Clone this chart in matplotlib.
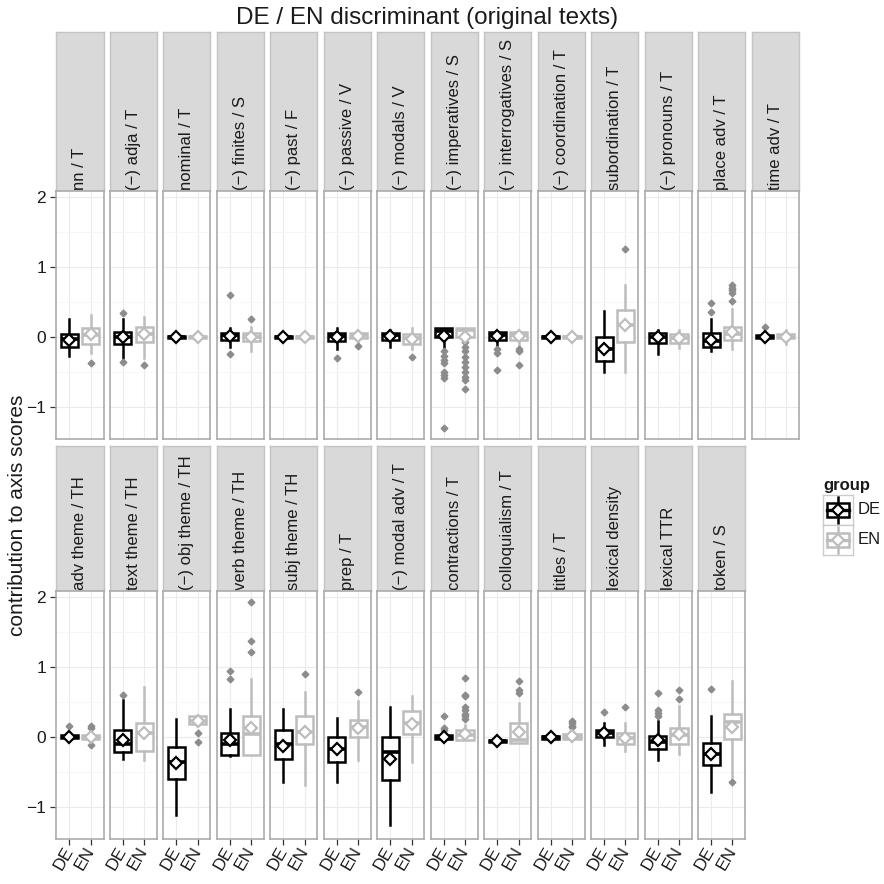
import matplotlib
matplotlib.use("Agg")
import matplotlib.pyplot as plt
from matplotlib.lines import Line2D
from matplotlib.patches import Rectangle

plt.rcParams['font.family'] = ['Liberation Sans', 'DejaVu Sans']

# ---------------------------------------------------------------- data
features = [
    "nn / T", "(−) adja / T", "nominal / T", "(−) finites / S", "(−) past / F",
    "(−) passive / V", "(−) modals / V", "(−) imperatives / S",
    "(−) interrogatives / S", "(−) coordination / T", "subordination / T",
    "(−) pronouns / T", "place adv / T", "time adv / T",
    "adv theme / TH", "text theme / TH", "(−) obj theme / TH", "verb theme / TH",
    "subj theme / TH", "prep / T", "(−) modal adv / T", "contractions / T",
    "colloquialism / T", "titles / T", "lexical density", "lexical TTR", "token / S",
]
groups = ["DE", "EN"]

# five-number summaries, means and outliers per feature (DE)
de_whislo = [-0.28, -0.31, -0.02, -0.14, -0.02, -0.18, -0.14, -0.17, -0.14, -0.02, -0.50, -0.25, -0.21, -0.03,
             -0.03, -0.32, -1.12, -0.27, -0.65, -0.65, -1.26, -0.04, -0.08, -0.03, -0.12, -0.33, -0.79]
de_q1 = [-0.14, -0.10, -0.015, -0.04, -0.015, -0.06, -0.05, 0.00, -0.05, -0.015, -0.34, -0.09, -0.15, -0.02,
         -0.02, -0.22, -0.61, -0.26, -0.32, -0.36, -0.62, -0.03, -0.08, -0.03, -0.01, -0.18, -0.40]
de_med = [-0.03, -0.01, 0.00, 0.02, 0.00, 0.01, 0.02, 0.08, 0.02, 0.00, -0.18, 0.00, -0.06, 0.00,
          0.00, -0.10, -0.36, -0.10, -0.11, -0.18, -0.22, -0.01, -0.06, -0.01, 0.05, -0.07, -0.24]
de_q3 = [0.04, 0.07, 0.015, 0.06, 0.015, 0.06, 0.05, 0.12, 0.07, 0.015, -0.01, 0.06, 0.05, 0.02,
         0.02, 0.10, -0.14, 0.05, 0.10, -0.01, -0.01, 0.02, -0.04, 0.01, 0.10, 0.01, -0.09]
de_whishi = [0.26, 0.26, 0.02, 0.13, 0.02, 0.13, 0.10, 0.12, 0.07, 0.02, 0.36, 0.10, 0.25, 0.03,
             0.03, 0.52, 0.25, 0.40, 0.40, 0.27, 0.42, 0.05, -0.04, 0.01, 0.20, 0.22, 0.30]
de_mean = [-0.04, 0.00, 0.00, 0.01, 0.00, 0.00, 0.01, 0.01, 0.01, 0.00, -0.17, 0.00, -0.05, 0.00,
           0.00, -0.05, -0.38, -0.05, -0.13, -0.18, -0.32, -0.01, -0.06, -0.01, 0.05, -0.05, -0.24]
de_fliers = [[], [0.34, -0.36], [], [0.59, -0.25], [], [-0.30], [],
             [-0.20, -0.27, -0.33, -0.37, -0.51, -0.55, -0.59, -1.31],
             [-0.18, -0.23, -0.48], [], [], [], [0.48, 0.35], [0.14],
             [0.15], [0.60], [], [0.94, 0.83], [], [], [], [0.29, 0.13, 0.10],
             [], [], [0.35], [0.62, 0.38, 0.34, 0.30], [0.68]]

# five-number summaries, means and outliers per feature (EN)
en_whislo = [-0.23, -0.30, -0.02, -0.20, -0.02, -0.08, -0.18, -0.05, -0.14, -0.02, -0.51, -0.16, -0.18, -0.10,
             -0.05, -0.33, 0.18, -0.26, -0.69, -0.33, -0.36, -0.05, -0.09, -0.03, -0.20, -0.25, -0.57]
en_q1 = [-0.10, -0.07, -0.015, -0.06, -0.015, -0.02, -0.10, 0.00, -0.05, -0.015, -0.07, -0.09, -0.05, -0.02,
         -0.03, -0.20, 0.18, -0.26, -0.11, -0.01, 0.04, -0.05, -0.09, -0.03, -0.10, -0.11, -0.03]
en_med = [0.03, 0.04, 0.00, 0.00, 0.00, 0.02, -0.02, 0.10, 0.02, 0.00, 0.17, -0.02, 0.04, 0.00,
          0.00, 0.06, 0.22, 0.04, 0.07, 0.14, 0.19, 0.03, -0.05, 0.00, -0.02, 0.03, 0.21]
en_q3 = [0.13, 0.14, 0.015, 0.05, 0.015, 0.06, 0.04, 0.12, 0.07, 0.015, 0.38, 0.04, 0.14, 0.04,
         0.03, 0.20, 0.29, 0.30, 0.29, 0.24, 0.36, 0.10, 0.20, 0.04, 0.05, 0.13, 0.33]
en_whishi = [0.31, 0.28, 0.02, 0.14, 0.02, 0.06, 0.13, 0.12, 0.07, 0.02, 0.74, 0.10, 0.40, 0.10,
             0.05, 0.71, 0.29, 0.83, 0.64, 0.51, 0.58, 0.17, 0.48, 0.04, 0.19, 0.44, 0.80]
en_mean = [0.04, 0.04, 0.00, 0.00, 0.00, 0.01, -0.03, 0.00, 0.01, 0.00, 0.17, -0.02, 0.07, 0.00,
           0.00, 0.06, 0.23, 0.13, 0.07, 0.13, 0.18, 0.04, 0.07, 0.01, -0.02, 0.04, 0.14]
en_fliers = [[-0.38], [-0.40], [], [0.25], [], [-0.13], [-0.29],
             [-0.07, -0.14, -0.21, -0.29, -0.36, -0.43, -0.50, -0.57, -0.62, -0.75],
             [-0.18, -0.21, -0.41], [], [1.25], [], [0.74, 0.70, 0.67, 0.62, 0.51], [],
             [0.16, 0.13, -0.12], [], [0.06, -0.08], [1.92, 1.36, 1.21], [0.89], [0.64], [],
             [0.84, 0.60, 0.58, 0.43, 0.38, 0.33, 0.29, 0.25], [0.79, 0.67, 0.62],
             [0.23, 0.19, 0.16, 0.14], [0.42], [0.67, 0.54], [-0.64]]

y_ticks = [-1, 0, 1, 2]
y_minor = [-0.5, 0.5, 1.5]

# ---------------------------------------------------------------- style
group_colors = {"DE": "#000000", "EN": "#BDBDBD"}
flier_color = "#8C8C8C"
strip_fill = "#D9D9D9"
border_col = "#ABABAB"
text_col = "#1A1A1A"
box_lw = 1.8

W = H = 884
fig = plt.figure(figsize=(W / 100, H / 100), dpi=100)


def px_axes(x, y, w, h, **kw):
    return fig.add_axes([x / W, 1 - (y + h) / H, w / W, h / H], **kw)


ncol = 14
col_left0, col_pitch, panel_w = 56.5, 53.48, 47.0
rows = [dict(strip_top=31.7, panel_top=191.0, panel_bot=439.0),
        dict(strip_top=446.0, panel_top=591.0, panel_bot=839.0)]
ylim = (-1.46, 2.08)


def summary(prefix, i):
    src = globals()
    return dict(whislo=src[prefix + "_whislo"][i], q1=src[prefix + "_q1"][i],
                med=src[prefix + "_med"][i], q3=src[prefix + "_q3"][i],
                whishi=src[prefix + "_whishi"][i], mean=src[prefix + "_mean"][i],
                fliers=src[prefix + "_fliers"][i])


for i, name in enumerate(features):
    r, c = divmod(i, ncol)
    geo = rows[r]
    left = col_left0 + c * col_pitch

    # strip
    sax = px_axes(left, geo["strip_top"], panel_w, geo["panel_top"] - geo["strip_top"])
    sax.set_facecolor(strip_fill)
    sax.set_xticks([]); sax.set_yticks([])
    for sp in sax.spines.values():
        sp.set_color("#C4C4C4"); sp.set_linewidth(1.0)
    sax.text(0.5, 0.008, name, rotation=90, rotation_mode="anchor", ha="left", va="center",
             transform=sax.transAxes, fontsize=12, color=text_col, clip_on=True)

    # panel
    ax = px_axes(left, geo["panel_top"], panel_w, geo["panel_bot"] - geo["panel_top"])

    for k, g in enumerate(groups):
        col = group_colors[g]
        st = summary(g.lower(), i)
        ax.bxp([st], positions=[k + 1], widths=0.8, patch_artist=True,
               showmeans=True, showcaps=False, manage_ticks=False,
               boxprops=dict(facecolor="white", edgecolor=col, linewidth=box_lw),
               medianprops=dict(color=col, linewidth=2.6, solid_capstyle="butt"),
               whiskerprops=dict(color=col, linewidth=box_lw),
               meanprops=dict(marker="D", markerfacecolor="white", markeredgecolor=col,
                              markersize=5.8, markeredgewidth=1.6),
               flierprops=dict(marker="D", markerfacecolor=flier_color,
                               markeredgecolor=flier_color, markersize=3.4))

    ax.set_xlim(0.4, 2.6)
    ax.set_ylim(*ylim)
    ax.set_yticks(y_ticks)
    ax.set_yticks(y_minor, minor=True)
    ax.set_xticks([1, 2])
    ax.grid(True, which="major", color="#EBEBEB", linewidth=0.8)
    ax.grid(True, which="minor", axis="y", color="#F6F6F6", linewidth=0.6)
    ax.set_axisbelow(True)
    for sp in ax.spines.values():
        sp.set_color(border_col); sp.set_linewidth(1.2)
        sp.set_zorder(5)

    if c == 0:
        ax.set_yticklabels(["−1", "0", "1", "2"])
        ax.tick_params(axis="y", which="major", length=4.5, width=0.9, color="#333333",
                       labelsize=12.5, labelcolor=text_col, pad=3)
    else:
        ax.tick_params(axis="y", which="major", length=0, labelleft=False)
    ax.tick_params(axis="y", which="minor", length=0)

    if r == 1:
        ax.set_xticklabels(groups)
        ax.tick_params(axis="x", length=4.5, width=0.9, color="#333333",
                       labelsize=12.5, labelcolor=text_col, pad=2)
        for lab in ax.get_xticklabels():
            lab.set_rotation(60)
            lab.set_rotation_mode("anchor")
            lab.set_ha("right")
            lab.set_va("center")
    else:
        ax.tick_params(axis="x", length=0, labelbottom=False)

# titles
fig.text(427 / W, 1 - 18 / H, "DE / EN discriminant (original texts)",
         ha="center", va="center", fontsize=17.5, color=text_col)
fig.text(18 / W, 1 - 515 / H, "contribution to axis scores", rotation=90,
         ha="center", va="center", fontsize=15, color=text_col)

# legend
fig.text(823 / W, 1 - 485 / H, "group", ha="left", va="center",
         fontsize=12, fontweight="bold", color=text_col)
for k, g in enumerate(groups):
    col = group_colors[g]
    kax = px_axes(823, 495 + k * 30, 30, 30)
    kax.set_xlim(0, 1); kax.set_ylim(0, 1)
    kax.set_facecolor("white")
    kax.set_xticks([]); kax.set_yticks([])
    for sp in kax.spines.values():
        sp.set_color("#CCCCCC"); sp.set_linewidth(1.0)
    kax.add_line(Line2D([0.5, 0.5], [0.08, 0.92], color=col, lw=box_lw))
    kax.add_patch(Rectangle((0.12, 0.28), 0.76, 0.44, facecolor="white", edgecolor=col, lw=box_lw))
    kax.add_line(Line2D([0.12, 0.88], [0.5, 0.5], color=col, lw=2.4))
    kax.plot([0.5], [0.5], marker="D", markersize=5.8, markerfacecolor="white",
             markeredgecolor=col, markeredgewidth=1.6)
    fig.text(858 / W, 1 - (510 + k * 30) / H, g, ha="left", va="center",
             fontsize=12, color=text_col)

fig.savefig("out.png", dpi=100, facecolor="white")
